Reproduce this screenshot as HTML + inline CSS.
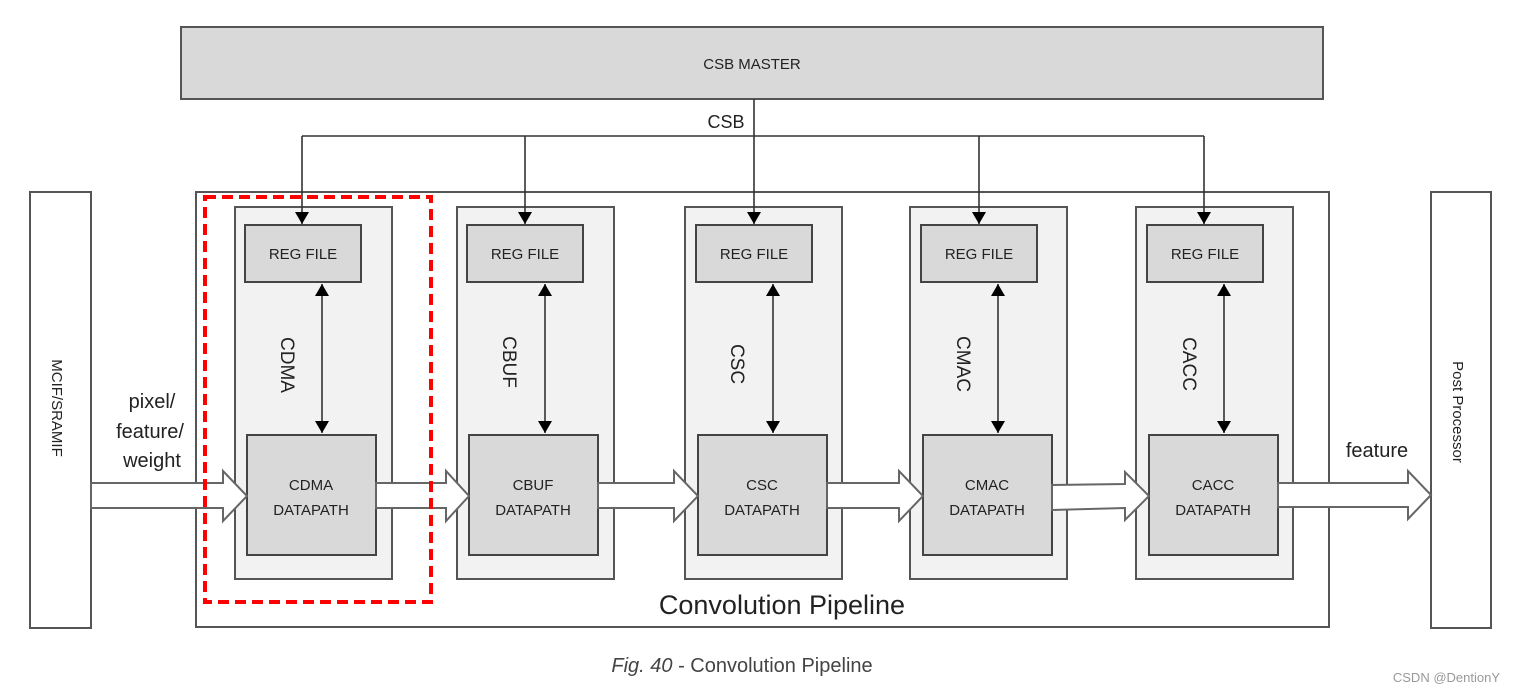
<!DOCTYPE html>
<html><head><meta charset="utf-8"><style>html,body{margin:0;padding:0;background:#fff;width:1514px;height:691px;overflow:hidden}</style></head><body>
<svg width="1514" height="691" viewBox="0 0 1514 691" xmlns="http://www.w3.org/2000/svg" font-family="Liberation Sans, sans-serif">
<defs><marker id="a" markerWidth="12" markerHeight="14" refX="12" refY="7" orient="auto" markerUnits="userSpaceOnUse"><path d="M0,0 L12,7 L0,14 Z" fill="#000"/></marker>
<marker id="b" markerWidth="12" markerHeight="14" refX="0" refY="7" orient="auto" markerUnits="userSpaceOnUse"><path d="M12,0 L0,7 L12,14 Z" fill="#000"/></marker></defs>
<g stroke="#555" stroke-width="2">
<rect x="181" y="27" width="1142" height="72" fill="#d9d9d9"/>
<rect x="30" y="192" width="61" height="436" fill="#fff"/>
<rect x="1431" y="192" width="60" height="436" fill="#fff"/>
<rect x="196" y="192" width="1133" height="435" fill="#fff"/>
</g>
<text x="752" y="69" font-size="15" text-anchor="middle" fill="#222">CSB MASTER</text>
<text x="726" y="128" font-size="18" text-anchor="middle" fill="#222">CSB</text>
<g font-size="15" fill="#222" text-anchor="middle">
<g>
<rect x="235" y="207" width="157" height="372" fill="#f2f2f2" stroke="#555" stroke-width="2"/>
<rect x="245" y="225" width="116" height="57" fill="#d9d9d9" stroke="#444" stroke-width="2"/>
<text x="303" y="259">REG FILE</text>
<rect x="247" y="435" width="129" height="120" fill="#d9d9d9" stroke="#444" stroke-width="2"/>
<text x="311" y="490">CDMA</text><text x="311" y="515">DATAPATH</text>
<text transform="translate(281,365) rotate(90)" font-size="19">CDMA</text>
</g>
<g>
<rect x="457" y="207" width="157" height="372" fill="#f2f2f2" stroke="#555" stroke-width="2"/>
<rect x="467" y="225" width="116" height="57" fill="#d9d9d9" stroke="#444" stroke-width="2"/>
<text x="525" y="259">REG FILE</text>
<rect x="469" y="435" width="129" height="120" fill="#d9d9d9" stroke="#444" stroke-width="2"/>
<text x="533" y="490">CBUF</text><text x="533" y="515">DATAPATH</text>
<text transform="translate(503,362) rotate(90)" font-size="19">CBUF</text>
</g>
<g>
<rect x="685" y="207" width="157" height="372" fill="#f2f2f2" stroke="#555" stroke-width="2"/>
<rect x="696" y="225" width="116" height="57" fill="#d9d9d9" stroke="#444" stroke-width="2"/>
<text x="754" y="259">REG FILE</text>
<rect x="698" y="435" width="129" height="120" fill="#d9d9d9" stroke="#444" stroke-width="2"/>
<text x="762" y="490">CSC</text><text x="762" y="515">DATAPATH</text>
<text transform="translate(731,364) rotate(90)" font-size="19">CSC</text>
</g>
<g>
<rect x="910" y="207" width="157" height="372" fill="#f2f2f2" stroke="#555" stroke-width="2"/>
<rect x="921" y="225" width="116" height="57" fill="#d9d9d9" stroke="#444" stroke-width="2"/>
<text x="979" y="259">REG FILE</text>
<rect x="923" y="435" width="129" height="120" fill="#d9d9d9" stroke="#444" stroke-width="2"/>
<text x="987" y="490">CMAC</text><text x="987" y="515">DATAPATH</text>
<text transform="translate(957,364) rotate(90)" font-size="19">CMAC</text>
</g>
<g>
<rect x="1136" y="207" width="157" height="372" fill="#f2f2f2" stroke="#555" stroke-width="2"/>
<rect x="1147" y="225" width="116" height="57" fill="#d9d9d9" stroke="#444" stroke-width="2"/>
<text x="1205" y="259">REG FILE</text>
<rect x="1149" y="435" width="129" height="120" fill="#d9d9d9" stroke="#444" stroke-width="2"/>
<text x="1213" y="490">CACC</text><text x="1213" y="515">DATAPATH</text>
<text transform="translate(1183,364) rotate(90)" font-size="19">CACC</text>
</g>
</g>
<g stroke="#333" stroke-width="1.6" fill="none">
<line x1="754" y1="99" x2="754" y2="224" marker-end="url(#a)"/>
<polyline points="302,136 1204,136"/>
<line x1="302" y1="136" x2="302" y2="224" marker-end="url(#a)"/>
<line x1="525" y1="136" x2="525" y2="224" marker-end="url(#a)"/>
<line x1="979" y1="136" x2="979" y2="224" marker-end="url(#a)"/>
<line x1="1204" y1="136" x2="1204" y2="224" marker-end="url(#a)"/>
</g>
<g stroke="#333" stroke-width="1.6">
<line x1="322" y1="284" x2="322" y2="433" marker-start="url(#b)" marker-end="url(#a)"/>
<line x1="545" y1="284" x2="545" y2="433" marker-start="url(#b)" marker-end="url(#a)"/>
<line x1="773" y1="284" x2="773" y2="433" marker-start="url(#b)" marker-end="url(#a)"/>
<line x1="998" y1="284" x2="998" y2="433" marker-start="url(#b)" marker-end="url(#a)"/>
<line x1="1224" y1="284" x2="1224" y2="433" marker-start="url(#b)" marker-end="url(#a)"/>
</g>
<g fill="#fff" stroke="#666" stroke-width="2">
<path d="M91,483 L223,483 L223,471 L247,496 L223,521 L223,508 L91,508 Z"/>
<path d="M376,483 L446,483 L446,471 L469,496 L446,521 L446,508 L376,508 Z"/>
<path d="M598,483 L674,483 L674,471 L698,496 L674,521 L674,508 L598,508 Z"/>
<path d="M827,483 L899,483 L899,471 L923,496 L899,521 L899,508 L827,508 Z"/>
<path d="M1052,485 L1125,484 L1125,472 L1149,496 L1125,520 L1125,508 L1052,510 Z"/>
<path d="M1278,483 L1408,483 L1408,471 L1431,495 L1408,519 L1408,507 L1278,507 Z"/>
</g>
<rect x="205" y="197" width="226" height="405" fill="none" stroke="#f00" stroke-width="4" stroke-dasharray="11,6"/>
<g fill="#222">
<text transform="translate(52,408) rotate(90)" font-size="15" text-anchor="middle">MCIF/SRAMIF</text>
<text transform="translate(1453,412) rotate(90)" font-size="15" text-anchor="middle">Post Processor</text>
<text x="152" y="408" font-size="20" text-anchor="middle">pixel/</text>
<text x="150" y="438" font-size="20" text-anchor="middle">feature/</text>
<text x="152" y="467" font-size="20" text-anchor="middle">weight</text>
<text x="1377" y="457" font-size="20" text-anchor="middle">feature</text>
<text x="782" y="614" font-size="27" text-anchor="middle">Convolution Pipeline</text>
</g>
<text x="742" y="672" font-size="20" text-anchor="middle" fill="#444"><tspan font-style="italic">Fig. 40</tspan> - Convolution Pipeline</text>
<text x="1500" y="682" font-size="13" text-anchor="end" fill="#999">CSDN @DentionY</text>
</svg>
</body></html>
